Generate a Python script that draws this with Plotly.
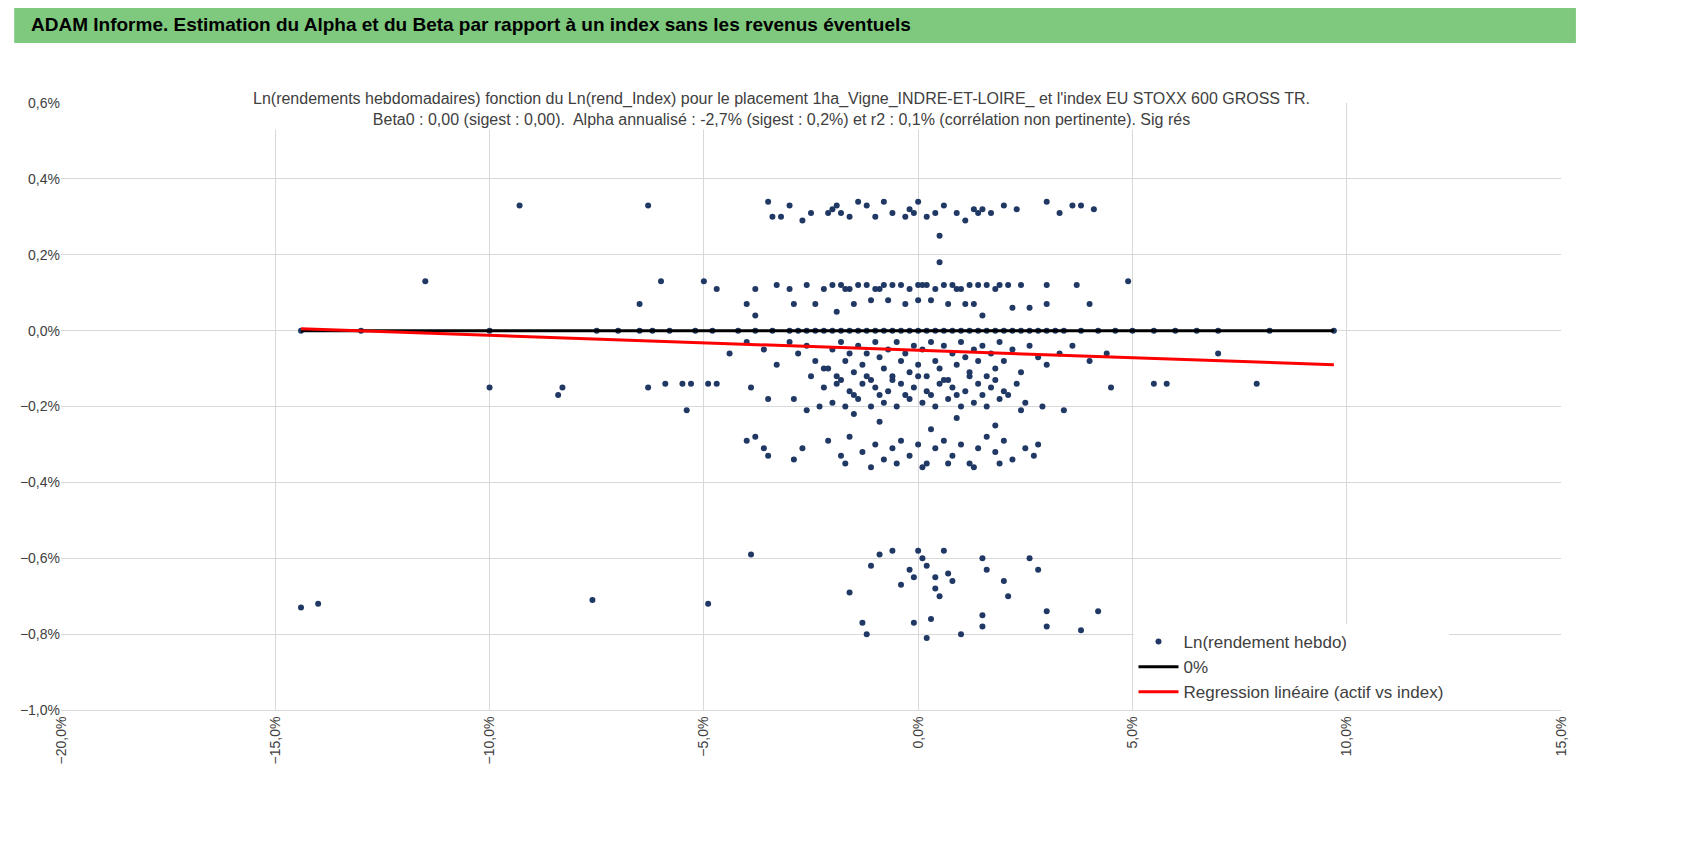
import plotly.graph_objects as go

# scatter points (x: index weekly log-return %, y: asset weekly log-return %)
pts_x = [
 # top band
 -9.3,-6.3,-3.5,-3.4,-3.2,-3.0,-2.7,-2.5,-2.0,-1.9,-1.8,-1.6,-1.4,-1.2,-1.0,-0.8,-0.6,-0.3,-0.1,0.0,0.2,0.4,0.6,0.9,1.1,1.3,1.5,1.7,2.0,2.3,3.0,3.3,3.6,3.8,4.1,-2.1,-0.2,1.4,
 # 0.12 band
 -11.5,-6.0,-5.0,-4.7,-3.8,-3.3,-3.0,-2.6,-2.2,-2.0,-1.8,-1.6,-1.4,-1.2,-1.0,-0.8,-0.6,-0.4,-0.2,0.0,0.2,0.4,0.6,0.8,1.0,1.2,1.4,1.6,1.8,2.1,2.4,3.0,3.7,4.9,-1.7,-0.9,0.1,0.9,1.9,
 -6.5,-4.0,-2.9,-1.5,-0.7,-0.3,0.3,0.7,1.3,2.2,3.0,4.0,0.5,0.5,-3.8,-1.9,1.5,-2.4,-1.1,0.0,1.1,2.6,
 # zero line
 -14.4,-13.0,-10.0,-7.5,-7.0,-6.5,-6.2,-5.8,-5.2,-4.8,-4.2,-3.8,-3.4,-3.0,-2.6,-2.2,-1.8,-1.4,-1.0,-0.6,-0.2,0.2,0.6,1.0,1.4,1.8,2.2,2.6,3.0,3.4,3.8,4.2,4.6,5.0,5.5,6.0,6.5,7.0,8.2,9.7,
 -2.8,-2.4,-2.0,-1.6,-1.2,-0.8,-0.4,0.0,0.4,0.8,1.2,1.6,2.0,2.4,2.8,3.2,
 # small negative cluster
 -4.4,-4.0,-3.6,-3.3,-3.0,-2.8,-2.6,-2.4,-2.2,-2.0,-1.9,-1.8,-1.7,-1.6,-1.5,-1.4,-1.3,-1.2,-1.1,-1.0,-0.9,-0.8,-0.7,-0.6,-0.5,-0.4,-0.3,-0.2,-0.1,0.0,
 0.1,0.2,0.3,0.4,0.5,0.6,0.7,0.8,0.9,1.0,1.1,1.2,1.3,1.4,1.5,1.6,1.7,1.8,1.9,2.0,2.2,2.4,2.6,2.8,3.0,3.3,3.6,4.0,4.4,5.5,5.8,7.9,7.0,
 -2.2,-1.9,-1.6,-1.3,-1.0,-0.7,-0.4,-0.1,0.2,0.5,0.8,1.1,1.4,1.7,2.0,2.3,
 -2.0,-1.7,-1.4,-1.1,-0.8,-0.5,-0.2,0.1,0.4,0.7,1.0,1.3,1.6,1.9,2.5,
 -10.0,-8.4,-8.3,-6.3,-5.9,-5.5,-5.4,-5.3,-4.9,-4.7,-3.9,-3.5,-2.9,-2.6,-2.3,-1.5,-0.9,0.3,0.9,1.8,2.4,2.9,3.4,4.5,
 -2.5,-2.1,-1.8,-1.5,-1.2,-0.9,-0.6,-0.3,0.0,0.3,0.6,0.9,1.2,1.5,1.8,2.1,
 # -0.3 band
 -4.0,-3.8,-3.6,-3.5,-2.9,-2.7,-2.1,-1.8,-1.6,-1.3,-1.0,-0.8,-0.6,-0.4,-0.2,0.0,0.2,0.4,0.6,0.8,1.0,1.2,1.4,1.6,1.8,2.0,2.2,2.5,2.7,2.8,
 -1.7,-1.1,-0.5,0.1,0.7,1.3,1.9,
 # bottom
 -14.4,-14.0,-7.6,-4.9,-3.9,-1.6,-1.3,-1.2,-1.1,-0.9,-0.6,-0.4,-0.2,-0.1,0.0,0.1,0.2,0.3,0.4,0.5,0.6,0.7,0.8,1.0,1.5,1.5,1.6,2.0,2.1,2.6,2.8,3.0,3.0,3.8,4.2,0.2,-0.1,0.4,1.5,
]
pts_y = [
 0.33,0.33,0.34,0.30,0.30,0.33,0.29,0.31,0.32,0.33,0.31,0.30,0.34,0.33,0.30,0.34,0.31,0.30,0.31,0.34,0.30,0.31,0.33,0.31,0.29,0.32,0.32,0.31,0.33,0.32,0.34,0.31,0.33,0.33,0.32,0.31,0.32,0.31,
 0.13,0.13,0.13,0.11,0.11,0.12,0.11,0.12,0.11,0.12,0.12,0.11,0.12,0.12,0.11,0.12,0.12,0.12,0.11,0.12,0.12,0.11,0.12,0.12,0.11,0.12,0.12,0.12,0.11,0.12,0.12,0.12,0.12,0.13,0.11,0.11,0.12,0.11,0.12,
 0.07,0.07,0.07,0.07,0.08,0.07,0.08,0.07,0.07,0.06,0.07,0.07,0.18,0.25,0.04,0.05,0.04,0.07,0.08,0.08,0.07,0.06,
 0,0,0,0,0,0,0,0,0,0,0,0,0,0,0,0,0,0,0,0,0,0,0,0,0,0,0,0,0,0,0,0,0,0,0,0,0,0,0,0,
 0,0,0,0,0,0,0,0,0,0,0,0,0,0,0,0,
 -0.06,-0.03,-0.05,-0.09,-0.03,-0.06,-0.04,-0.08,-0.10,-0.05,-0.12,-0.03,-0.08,-0.06,-0.11,-0.04,-0.09,-0.06,-0.13,-0.03,-0.07,-0.10,-0.05,-0.12,-0.03,-0.08,-0.06,-0.11,-0.04,-0.09,
 -0.05,-0.12,-0.03,-0.08,-0.10,-0.04,-0.13,-0.06,-0.09,-0.03,-0.07,-0.11,-0.05,-0.08,-0.04,-0.12,-0.06,-0.10,-0.03,-0.08,-0.05,-0.11,-0.04,-0.07,-0.09,-0.06,-0.04,-0.08,-0.06,-0.14,-0.14,-0.14,-0.06,
 -0.15,-0.14,-0.16,-0.14,-0.15,-0.16,-0.14,-0.15,-0.16,-0.14,-0.15,-0.16,-0.14,-0.15,-0.16,-0.14,
 -0.19,-0.20,-0.18,-0.20,-0.19,-0.20,-0.18,-0.19,-0.20,-0.18,-0.20,-0.19,-0.20,-0.18,-0.19,
 -0.15,-0.17,-0.15,-0.15,-0.14,-0.14,-0.21,-0.14,-0.14,-0.14,-0.15,-0.18,-0.18,-0.21,-0.20,-0.22,-0.24,-0.26,-0.23,-0.25,-0.21,-0.20,-0.21,-0.15,
 -0.12,-0.10,-0.13,-0.17,-0.12,-0.17,-0.13,-0.17,-0.12,-0.17,-0.13,-0.17,-0.12,-0.17,-0.13,-0.17,
 -0.29,-0.28,-0.31,-0.33,-0.34,-0.31,-0.29,-0.33,-0.28,-0.32,-0.30,-0.34,-0.31,-0.29,-0.33,-0.30,-0.35,-0.31,-0.29,-0.33,-0.30,-0.35,-0.31,-0.28,-0.32,-0.29,-0.34,-0.31,-0.33,-0.30,
 -0.35,-0.36,-0.35,-0.36,-0.35,-0.36,-0.35,
 -0.73,-0.72,-0.71,-0.72,-0.59,-0.69,-0.77,-0.80,-0.62,-0.59,-0.58,-0.67,-0.63,-0.77,-0.58,-0.60,-0.62,-0.76,-0.65,-0.70,-0.58,-0.64,-0.66,-0.80,-0.75,-0.60,-0.63,-0.66,-0.70,-0.60,-0.63,-0.74,-0.78,-0.79,-0.74,-0.81,-0.65,-0.68,-0.78,
]
pts_x = [v / 100 for v in pts_x]
pts_y = [v / 100 for v in pts_y]

zero_x = [-0.144, 0.097]
zero_y = [0.0, 0.0]
reg_x = [-0.144, 0.097]
reg_y = [0.00005, -0.0009]

fig = go.Figure()
fig.add_trace(go.Scatter(x=pts_x, y=pts_y, mode="markers", name="Ln(rendement hebdo)",
                         marker=dict(color="#203864", size=6)))
fig.add_trace(go.Scatter(x=zero_x, y=zero_y, mode="lines", name="0%",
                         line=dict(color="black", width=3)))
fig.add_trace(go.Scatter(x=reg_x, y=reg_y, mode="lines", name="Regression linéaire (actif vs index)",
                         line=dict(color="#FF0000", width=3)))

font = "Liberation Sans Narrow, Liberation Sans, sans-serif"
fig.update_layout(
    width=1698, height=855, separators=", ",
    font=dict(family=font, size=14, color="#404040"),
    paper_bgcolor="white", plot_bgcolor="white",
    margin=dict(l=47, r=145, t=95, b=153),
    xaxis=dict(range=[-0.20, 0.15], dtick=0.05, tickformat=".1%", tickangle=-90,
               showgrid=True, gridcolor="#D9D9D9", zeroline=False,
               showline=True, linecolor="#D9D9D9", ticks="", tickfont=dict(size=14)),
    yaxis=dict(range=[-0.010, 0.006], dtick=0.002, tickformat=".1%",
               showgrid=True, gridcolor="#D9D9D9", zeroline=False, ticks="",
               tickfont=dict(size=14)),
    legend=dict(x=0.715, y=0.0, xanchor="left", yanchor="bottom", bgcolor="rgba(255,255,255,1)",
                font=dict(size=17, color="#404040"), tracegroupgap=20, itemwidth=40),
    showlegend=True,
    shapes=[dict(type="rect", xref="paper", yref="paper", x0=-47/1506, x1=1568/1506 - 47/1506,
                 y0=1 + 60/607, y1=1 + 95/607, fillcolor="#7FC97F", line=dict(width=0), layer="below")],
    annotations=[
        dict(text="<b>ADAM Informe. Estimation du Alpha et du Beta par rapport à un index sans les revenus éventuels</b>",
             xref="paper", yref="paper", x=-32/1506, y=1 + 78/607, xanchor="left", yanchor="middle",
             showarrow=False, font=dict(size=19, color="black", family=font)),
        dict(text="Ln(rendements hebdomadaires) fonction du Ln(rend_Index) pour le placement 1ha_Vigne_INDRE-ET-LOIRE_ et l'index EU STOXX 600 GROSS TR.<br>Beta0 : 0,00 (sigest : 0,00).  Alpha annualisé : -2,7% (sigest : 0,2%) et r2 : 0,1% (corrélation non pertinente). Sig rés",
             xref="paper", yref="paper", x=0.48, y=1 + 15/607, xanchor="center", yanchor="top",
             showarrow=False, bgcolor="white", font=dict(size=16, color="#404040", family=font)),
    ],
)
fig.write_html("out.html")
